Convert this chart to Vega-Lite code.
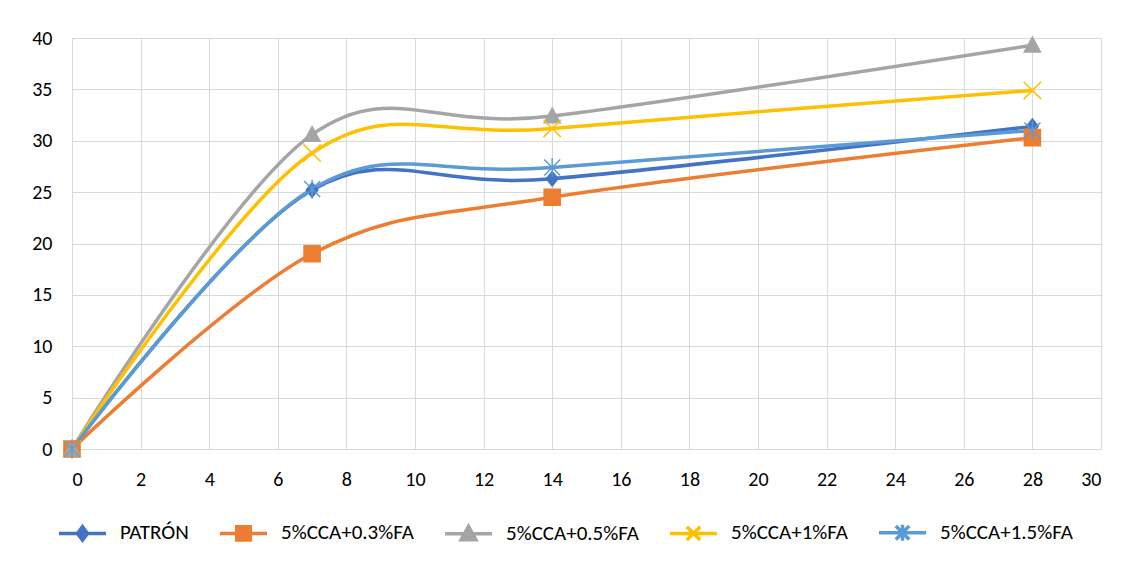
{
  "$schema": "https://vega.github.io/schema/vega-lite/v6.json",
  "width": 1029,
  "height": 411,
  "autosize": {"type": "none"},
  "padding": {"left": 72, "top": 38, "right": 30, "bottom": 120},
  "background": "white",
  "config": {
    "view": {"stroke": null},
    "font": "Carlito, Liberation Sans, sans-serif",
    "axis": {
      "labelFont": "Carlito, Liberation Sans, sans-serif",
      "labelFontSize": 20,
      "labelColor": "#000000",
      "gridColor": "#d9d9d9",
      "gridWidth": 1,
      "ticks": false,
      "title": null
    },
    "legend": {
      "orient": "bottom",
      "direction": "horizontal",
      "title": null,
      "offset": 33,
      "symbolSize": 180,
      "symbolStrokeWidth": 3.5,
      "labelFontSize": 21,
      "labelFont": "Carlito, Liberation Sans, sans-serif",
      "labelColor": "#000000",
      "labelOffset": 27,
      "columnPadding": 24,
      "labelLimit": 300
    }
  },
  "data": {
    "values": [
      {"day": 0, "series": "PATRÓN", "value": 0},
      {"day": 7, "series": "PATRÓN", "value": 25.2},
      {"day": 14, "series": "PATRÓN", "value": 26.3},
      {"day": 28, "series": "PATRÓN", "value": 31.4},
      {"day": 0, "series": "5%CCA+0.3%FA", "value": 0},
      {"day": 7, "series": "5%CCA+0.3%FA", "value": 19.0},
      {"day": 14, "series": "5%CCA+0.3%FA", "value": 24.5},
      {"day": 28, "series": "5%CCA+0.3%FA", "value": 30.3},
      {"day": 0, "series": "5%CCA+0.5%FA", "value": 0},
      {"day": 7, "series": "5%CCA+0.5%FA", "value": 30.6},
      {"day": 14, "series": "5%CCA+0.5%FA", "value": 32.4},
      {"day": 28, "series": "5%CCA+0.5%FA", "value": 39.3},
      {"day": 0, "series": "5%CCA+1%FA", "value": 0},
      {"day": 7, "series": "5%CCA+1%FA", "value": 28.8},
      {"day": 14, "series": "5%CCA+1%FA", "value": 31.2},
      {"day": 28, "series": "5%CCA+1%FA", "value": 34.9},
      {"day": 0, "series": "5%CCA+1.5%FA", "value": 0},
      {"day": 7, "series": "5%CCA+1.5%FA", "value": 25.3},
      {"day": 14, "series": "5%CCA+1.5%FA", "value": 27.4},
      {"day": 28, "series": "5%CCA+1.5%FA", "value": 31.0}
    ]
  },
  "resolve": {"scale": {"shape": "independent", "color": "independent", "stroke": "independent"}},
  "encoding": {
    "x": {
      "field": "day", "type": "quantitative",
      "scale": {"domain": [0, 30], "nice": false},
      "axis": {"values": [0,2,4,6,8,10,12,14,16,18,20,22,24,26,28,30], "domainColor": "#d9d9d9", "labelPadding": 20}
    },
    "y": {
      "field": "value", "type": "quantitative",
      "scale": {"domain": [0, 40], "nice": false},
      "axis": {"values": [0,5,10,15,20,25,30,35,40], "domain": false, "labelPadding": 20}
    }
  },
  "layer": [
    {
      "mark": {"type": "line", "interpolate": "cardinal", "strokeWidth": 3.5},
      "encoding": {
        "color": {
          "field": "series", "type": "nominal",
          "scale": {
            "domain": ["PATRÓN", "5%CCA+0.3%FA", "5%CCA+0.5%FA", "5%CCA+1%FA", "5%CCA+1.5%FA"],
            "range": ["#4472C4", "#ED7D31", "#A5A5A5", "#FFC000", "#5B9BD5"]
          },
          "legend": null
        }
      }
    },
    {
      "mark": {"type": "point", "filled": true, "opacity": 1, "size": 180, "strokeWidth": 1.5},
      "encoding": {
        "color": {
          "field": "series", "type": "nominal",
          "scale": {
            "domain": ["PATRÓN", "5%CCA+0.3%FA", "5%CCA+0.5%FA", "5%CCA+1%FA", "5%CCA+1.5%FA"],
            "range": ["#4472C4", "#ED7D31", "#A5A5A5", "#FFC000", "#5B9BD5"]
          },
          "legend": null
        },
        "stroke": {
          "field": "series", "type": "nominal",
          "scale": {
            "domain": ["PATRÓN", "5%CCA+0.3%FA", "5%CCA+0.5%FA", "5%CCA+1%FA", "5%CCA+1.5%FA"],
            "range": ["#4472C4", "#ED7D31", "#A5A5A5", "#FFC000", "#5B9BD5"]
          },
          "legend": null
        },
        "shape": {
          "field": "series", "type": "nominal",
          "scale": {
            "domain": ["PATRÓN", "5%CCA+0.3%FA", "5%CCA+0.5%FA", "5%CCA+1%FA", "5%CCA+1.5%FA"],
            "range": [
              "M0,-1.1L0.85,0L0,1.1L-0.85,0Z",
              "M-1.2,-1.2L1.2,-1.2L1.2,1.2L-1.2,1.2Z",
              "M0,-1.2L1.2,1L-1.2,1Z",
              "M-1.3,-1.3L1.3,1.3M-1.3,1.3L1.3,-1.3",
              "M-1.2,-1.2L1.2,1.2M-1.2,1.2L1.2,-1.2M0,-1.4L0,1.4"
            ]
          },
          "legend": null
        }
      }
    },
    {
      "transform": [{"filter": {"field": "day", "lt": 0}}],
      "mark": {"type": "point", "filled": true, "opacity": 1, "size": 180, "strokeWidth": 3.5},
      "encoding": {
        "color": {
          "field": "series", "type": "nominal",
          "scale": {
            "domain": ["PATRÓN", "5%CCA+0.3%FA", "5%CCA+0.5%FA", "5%CCA+1%FA", "5%CCA+1.5%FA"],
            "range": ["#4472C4", "#ED7D31", "#A5A5A5", "#FFC000", "#5B9BD5"]
          }
        },
        "stroke": {
          "field": "series", "type": "nominal",
          "scale": {
            "domain": ["PATRÓN", "5%CCA+0.3%FA", "5%CCA+0.5%FA", "5%CCA+1%FA", "5%CCA+1.5%FA"],
            "range": ["#4472C4", "#ED7D31", "#A5A5A5", "#FFC000", "#5B9BD5"]
          }
        },
        "shape": {
          "field": "series", "type": "nominal",
          "scale": {
            "domain": ["PATRÓN", "5%CCA+0.3%FA", "5%CCA+0.5%FA", "5%CCA+1%FA", "5%CCA+1.5%FA"],
            "range": [
              "M-3.5,0L3.5,0M0,-1L0.75,0L0,1L-0.75,0Z",
              "M-3.5,0L3.5,0M-1,-1L1,-1L1,1L-1,1Z",
              "M-3.5,0L3.5,0M0,-1.1L1.1,0.9L-1.1,0.9Z",
              "M-3.5,0L3.5,0M-1,-1L1,1M-1,1L1,-1",
              "M-3.5,0L3.5,0M-1,-1L1,1M-1,1L1,-1M0,-1.2L0,1.2"
            ]
          }
        }
      }
    }
  ]
}
